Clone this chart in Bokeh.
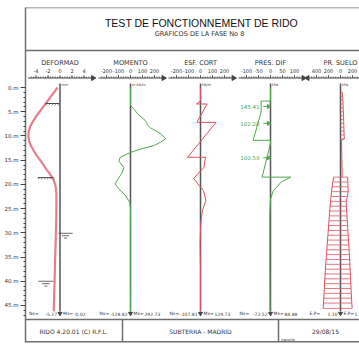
import numpy as np
from bokeh.plotting import figure
from bokeh.models import Range1d, LinearAxis, FixedTicker, Label
from bokeh.core.properties import value
from bokeh.embed import file_html
from bokeh.resources import INLINE

# ---------------- data ----------------
TITLE = "TEST DE FONCTIONNEMENT DE RIDO"
SUBTITLE = "GRAFICOS DE LA FASE No  8"
FOOT_LEFT = "RIDO  4.20.01 (C) R.F.L."
FOOT_MID = "SUBTERRA - MADRID"
FOOT_RIGHT = "29/08/15"
FOOT_TINY = "kwntrib"

DEPTH_TICKS = [0, 5, 10, 15, 20, 25, 30, 35, 40, 45]
DEPTH_LABELS = ["0.m", "5.m", "10.m", "15.m", "20.m", "25.m", "30.m", "35.m", "40.m", "45.m"]
DEPTH_MINOR = list(range(0, 48))

HEADERS = ["DEFORMAD", "MOMENTO", "ESF. CORT", "PRES. DIF", "PR. SUELO"]
UNITS = ["mm", "m.kN/m", "kN/m", "kPa", "kPa"]
DEF_TICKS = [-4, -2, 0, 2, 4]
MOM_TICKS = [-200, -100, 0, 100, 200]
ESF_TICKS = [-200, -100, 0, 100, 200]
PRES_TICKS = [-100, -50, 0, 50, 100]
SUELO_TICKS = [400, 200, 0, -200, -400]
SUELO_TICK_LABELS = ["400", "200", "0", "200", "400"]

MIN_LABELS = ["-5.27", "-128.82", "-107.81", "-72.52", "1.10"]
MAX_LABELS = ["-0.02", "292.73", "129.73", "84.88", "1.10"]
MIN_PREFIX = ["Nx=", "Nx=", "Nx=", "Nx=", "E.P="]
MAX_PREFIX = ["Mx=", "Mx=", "Mx=", "Mx=", "E.P="]

# deformation (mm) vs depth (m)
DEF_DEPTH = [0, 1, 2, 3, 4, 5, 6, 7, 8, 9, 10, 11, 12, 13, 14, 15, 16, 17, 18, 19,
             20, 21, 22, 24, 27, 30, 33, 36, 40, 43, 46.2]
DEF_VALS = [-0.4, -1.0, -1.6, -2.2, -2.8, -3.4, -4.0, -4.5, -4.95, -5.2, -5.27, -5.15,
            -4.85, -4.4, -3.9, -3.3, -2.75, -2.2, -1.6, -1.1, -0.8, -0.65, -0.6, -0.6,
            -0.62, -0.68, -0.75, -0.82, -0.9, -0.98, -1.05]

# bending moment (m.kN/m)
MOM_DEPTH = [0, 3.7, 4.5, 5.4, 6.5, 7.2, 7.7, 8.3, 9.5, 10.6, 11.3, 12.0, 12.7, 13.4,
             14.4, 15.2, 16.5, 17.5, 19.2, 19.9, 20.9, 22.3, 23.7, 25, 30, 35, 40, 46.2]
MOM_VALS = [0, 0, 30, 58, 110, 135, 140, 165, 250, 292.73, 250, 195, 85, 0,
            -85, -97, -56, -68, -111, -128.82, -97, -42, -6, 0, 1, 1, 1, 0]

# shear force (kN/m)
ESF_DEPTH = [0, 2.8, 3.4, 3.4, 6.9, 7.2, 7.2, 14.4, 14.4, 16.5, 18.8, 21.3, 23.3, 25.5,
             28, 32, 38, 46.2]
ESF_VALS = [0, 0, -35, 56, -25, -25, 129.73, -107.81, 42, 28, -58, 25, 45, 15, 2, -3,
            0, 0]

# differential pressure (kPa)
PRES_DEPTH = [0, 2.8, 2.8, 5.1, 10.9, 10.9, 11.5, 18.5, 18.5, 19.5, 21.3, 23, 26,
              35, 46.2]
PRES_VALS = [0, 0, -39, -39, -72.52, 0, 0, -35, 84.88, 45, 12, 0, -3, -3, -2]
STRUT_DEPTHS = [3.9, 7.4, 14.5]
STRUT_FORCES = ["145.41", "102.28", "100.59"]

# soil pressure (kPa); left side positive, right side negative
SUELO_TOP_DEPTH = [1.0, 1.8, 2.6, 3.4, 4.2, 5.0, 5.8, 6.6, 7.4, 8.2, 9.0, 9.8, 10.6]
SUELO_TOP_RIGHT = [30, 35, 40, 42, 45, 47, 50, 52, 54, 56, 58, 60, 65]
SUELO_MID_DEPTH = [10.6, 10.9, 14.0, 18.5]
SUELO_MID_RIGHT = [65, 17, 22, 28]
SUELO_LOW_DEPTH = [18.5, 19.5, 20.5, 21.5, 22.5, 23.5, 24.5, 25.5, 26.5, 27.5, 28.5,
                   29.5, 30.5, 31.5, 32.5, 33.5, 34.5, 35.5, 36.5, 37.5, 38.5, 39.5,
                   40.5, 41.5, 42.5, 43.5, 44.5, 45.6]
SUELO_LOW_LEFT = [115, 128, 140, 150, 158, 166, 173, 180, 186, 192, 198, 204, 210,
                  216, 222, 228, 234, 240, 246, 251, 256, 261, 266, 270, 275, 279,
                  284, 288]
SUELO_LOW_RIGHT = [118, 122, 126, 128, 115, 95, 98, 103, 108, 113, 118, 123, 128,
                   133, 138, 143, 148, 152, 156, 160, 164, 168, 172, 176, 180, 184,
                   188, 195]

EXCAV_DEPTHS = [3.3, 18.6]
WATER_DEPTHS = [30.1, 40.0]

# ---------------- layout / style ----------------
W, H = 359, 344
X0, X1 = 25, 359          # plot frame in page px
YT, YB = 7, 342
Y_ZERO_PX = 87.0
PX_PER_M = 4.844
GREY = "#6f6f6f"
DARK = "#444444"
TXT = "#333333"
FONT_S = "DejaVu Sans"
FONT = value(FONT_S)
TITLE_FONT = "Liberation Sans"
RED = "#e0505e"
PINK = "#e57f8b"
GREEN = "#4fa84f"

p = figure(width=W, height=H, x_range=Range1d(X0, X1), y_range=Range1d(YB, YT),
           output_backend="svg", toolbar_location=None,
           x_axis_location=None, y_axis_location=None,
           min_border_left=X0, min_border_right=0, min_border_top=YT,
           min_border_bottom=H - YB)
p.grid.visible = False
p.outline_line_color = None
p.background_fill_color = "white"
p.border_fill_color = "white"

p.extra_y_ranges = {"depth": Range1d(start=(YB - Y_ZERO_PX) / PX_PER_M,
                                     end=(YT - Y_ZERO_PX) / PX_PER_M)}

# depth axis = left frame line
dax = LinearAxis(y_range_name="depth",
                 ticker=FixedTicker(ticks=DEPTH_TICKS, minor_ticks=DEPTH_MINOR),
                 major_label_overrides={t: l for t, l in zip(DEPTH_TICKS, DEPTH_LABELS)},
                 axis_line_color=GREY, axis_line_width=1.5,
                 major_tick_out=5, major_tick_in=0, minor_tick_out=2, minor_tick_in=0,
                 major_tick_line_color=DARK, minor_tick_line_color=DARK,
                 major_label_text_font_size="5.5px", major_label_standoff=2,
                 major_label_text_color=TXT, major_label_text_font=FONT_S)
p.add_layout(dax, "left")

# frame lines
p.segment(x0=[X0, X0, X0, 122, 278], x1=[X1, X1, X1, 122, 278],
          y0=[YT, 50, 319, 319, 319], y1=[YT, 50, 319, YB, YB],
          line_color=GREY, line_width=1.5)
p.segment(x0=[X0], x1=[X1], y0=[YB - 0.5], y1=[YB - 0.5], line_color=GREY, line_width=2)

p.add_layout(Label(x=201, y=22, text=TITLE, text_align="center", text_baseline="middle",
                   text_font_size="10.5px", text_font=TITLE_FONT, text_color="#111111"))
p.add_layout(Label(x=200, y=33, text=SUBTITLE, text_align="center", text_baseline="middle",
                   text_font_size="6.5px", text_font=FONT_S, text_color=TXT))
p.add_layout(Label(x=74, y=331, text=FOOT_LEFT, text_align="center", text_baseline="middle",
                   text_font_size="6px", text_font=FONT_S, text_color=TXT))
p.add_layout(Label(x=200, y=331, text=FOOT_MID, text_align="center", text_baseline="middle",
                   text_font_size="6px", text_font=FONT_S, text_color=TXT))
p.add_layout(Label(x=325, y=331, text=FOOT_RIGHT, text_align="center", text_baseline="middle",
                   text_font_size="6px", text_font=FONT_S, text_color=TXT))
p.add_layout(Label(x=281, y=339, text=FOOT_TINY, text_align="left", text_baseline="middle",
                   text_font_size="3.5px", text_font=FONT_S, text_color=TXT))

# panels: key, zero px, px per unit, direction
PANELS = [("def", 59.5, 6.0, 1, DEF_TICKS, [str(t) for t in DEF_TICKS]),
          ("mom", 130.0, 0.12, 1, MOM_TICKS, [str(t) for t in MOM_TICKS]),
          ("esf", 200.0, 0.12, 1, ESF_TICKS, [str(t) for t in ESF_TICKS]),
          ("pres", 270.0, 0.24, 1, PRES_TICKS, [str(t) for t in PRES_TICKS]),
          ("suelo", 340.0, 0.06, -1, SUELO_TICKS, SUELO_TICK_LABELS)]
AX_Y = 77.5
HALF = 32

for i, (key, zero, sc, sg, ticks, tlabels) in enumerate(PANELS):
    p.extra_x_ranges[key] = Range1d(start=sg * (X0 - zero) / sc, end=sg * (X1 - zero) / sc)
    u = sg / sc      # units per px (signed)
    kw = dict(x_range_name=key)
    # axis line
    p.segment(x0=[-HALF * u], x1=[HALF * u], y0=[AX_Y], y1=[AX_Y], line_color=DARK,
              line_width=1, **kw)
    step = (ticks[1] - ticks[0]) / 5.0
    minor = np.arange(ticks[0] - 5 * step, ticks[-1] + 5 * step + step / 2, step)
    minor = [m for m in minor if abs(m / u) <= HALF - 1]
    p.segment(x0=minor, x1=minor, y0=[AX_Y] * len(minor), y1=[AX_Y - 1.5] * len(minor),
              line_color=DARK, line_width=0.8, **kw)
    p.segment(x0=ticks, x1=ticks, y0=[AX_Y] * len(ticks), y1=[AX_Y - 3] * len(ticks),
              line_color=DARK, line_width=0.8, **kw)
    if sg > 0:
        p.scatter(x=[(HALF + 1) * u], y=[AX_Y], marker="triangle", angle=-np.pi / 2,
                  size=5, color=DARK, **kw)
    else:
        p.scatter(x=[(HALF + 1) * abs(u)], y=[AX_Y], marker="triangle", angle=np.pi / 2,
                  size=5, color=DARK, **kw)
    p.text(x=ticks, y=[70.5] * len(ticks), text=tlabels, text_align="center",
           text_baseline="middle", text_font_size="5px", text_font=FONT, text_color=TXT, **kw)
    p.text(x=[0], y=[62], text=[HEADERS[i]], text_align="center", text_baseline="middle",
           text_font_size="6.5px", text_font=FONT, text_color=TXT, **kw)
    p.text(x=[1.5 * u], y=[84], text=[UNITS[i]], text_align="left", text_baseline="middle",
           text_font_size="3.5px", text_font=FONT, text_color=TXT, **kw)
    # zero line
    p.segment(x0=[0], x1=[0], y0=[83], y1=[311], line_color="#555555", line_width=1.5, **kw)
    p.scatter(x=[0], y=[313], marker="inverted_triangle", size=4, color=DARK, **kw)
    # min / max labels
    p.text(x=[-31 * u], y=[313], text=[MIN_PREFIX[i]], text_align="left",
           text_baseline="middle", text_font_size="4.5px", text_font=FONT, text_color=TXT, **kw)
    p.text(x=[-3 * u], y=[313], text=[MIN_LABELS[i]], text_align="right",
           text_baseline="middle", text_font_size="4.5px", text_font=FONT, text_color=TXT, **kw)
    p.text(x=[3 * u], y=[313], text=[MAX_PREFIX[i]], text_align="left",
           text_baseline="middle", text_font_size="4.5px", text_font=FONT, text_color=TXT, **kw)
    p.text(x=[14 * u], y=[313], text=[MAX_LABELS[i]], text_align="left",
           text_baseline="middle", text_font_size="4.5px", text_font=FONT, text_color=TXT, **kw)

D = dict(y_range_name="depth")

# curves
p.line(DEF_VALS, DEF_DEPTH, x_range_name="def", line_color=PINK, line_width=2.2, **D)
p.line(MOM_VALS, MOM_DEPTH, x_range_name="mom", line_color=GREEN, line_width=1, **D)
p.line(ESF_VALS, ESF_DEPTH, x_range_name="esf", line_color=RED, line_width=1, **D)
p.line(PRES_VALS, PRES_DEPTH, x_range_name="pres", line_color=GREEN, line_width=1, **D)

# strut forces
p.text(x=[-46] * 3, y=STRUT_DEPTHS, text=STRUT_FORCES, text_align="right",
       text_baseline="middle", text_font_size="5.5px", text_font=FONT, text_color=GREEN,
       x_range_name="pres", **D)
p.segment(x0=[-30] * 3, x1=[-5] * 3, y0=STRUT_DEPTHS, y1=STRUT_DEPTHS, line_color=GREEN,
          line_width=1, x_range_name="pres", **D)
p.scatter(x=[-8] * 3, y=STRUT_DEPTHS, marker="triangle", angle=-np.pi / 2, size=4,
          color=GREEN, x_range_name="pres", **D)

# soil pressure diagrams
neg_top = [-v for v in SUELO_TOP_RIGHT]
p.segment(x0=[0] * len(neg_top), x1=neg_top, y0=SUELO_TOP_DEPTH, y1=SUELO_TOP_DEPTH,
          line_color=RED, line_width=0.8, x_range_name="suelo", **D)
p.line(neg_top, SUELO_TOP_DEPTH, line_color=RED, line_width=1, x_range_name="suelo", **D)
p.line([-v for v in SUELO_MID_RIGHT], SUELO_MID_DEPTH, line_color=RED, line_width=1,
       x_range_name="suelo", **D)
neg_low = [-v for v in SUELO_LOW_RIGHT]
p.segment(x0=SUELO_LOW_LEFT, x1=neg_low, y0=SUELO_LOW_DEPTH, y1=SUELO_LOW_DEPTH,
          line_color=RED, line_width=0.8, x_range_name="suelo", **D)
p.line(SUELO_LOW_LEFT, SUELO_LOW_DEPTH, line_color=RED, line_width=1,
       x_range_name="suelo", **D)
p.line(neg_low, SUELO_LOW_DEPTH, line_color=RED, line_width=1, x_range_name="suelo", **D)

# excavation levels (hatched) on left of wall
for dep, (a, b) in zip(EXCAV_DEPTHS, [(-2.4, -0.1), (-3.7, -1.1)]):
    p.segment(x0=[a], x1=[b], y0=[dep], y1=[dep], line_color=DARK, line_width=1,
              x_range_name="def", **D)
    hx = list(np.arange(a, b, 0.5))
    p.segment(x0=hx, x1=[h + 0.3 for h in hx], y0=[dep + 0.4] * len(hx),
              y1=[dep + 0.05] * len(hx), line_color=DARK, line_width=0.6,
              x_range_name="def", **D)

# water tables
for dep, (a, b) in zip(WATER_DEPTHS, [(-0.25, 2.1), (-3.6, -1.1)]):
    m = (a + b) / 2
    hw = (b - a) / 2
    p.segment(x0=[a, m - hw * 0.5, m - hw * 0.2], x1=[b, m + hw * 0.5, m + hw * 0.2],
              y0=[dep, dep + 0.5, dep + 1.0], y1=[dep, dep + 0.5, dep + 1.0],
              line_color=DARK, line_width=0.8, x_range_name="def", **D)

open("out.html", "w").write(file_html(p, INLINE))
